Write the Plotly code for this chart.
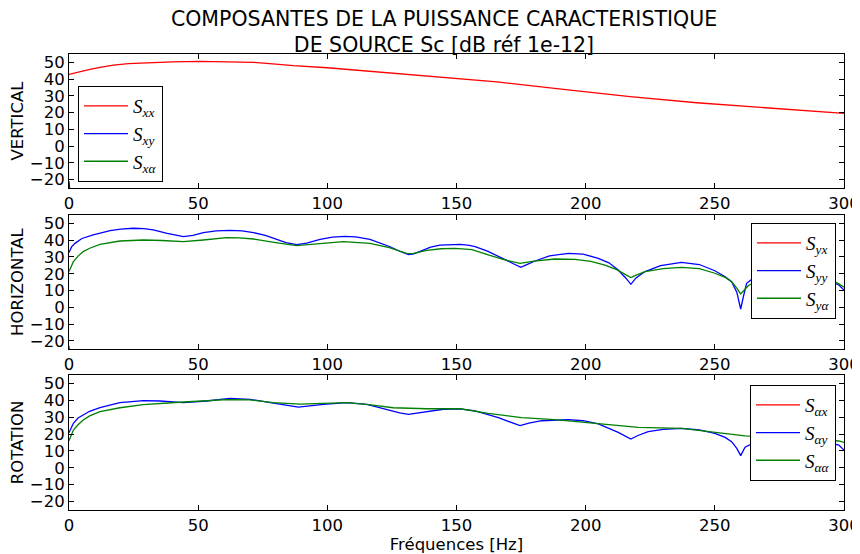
import plotly.graph_objects as go

# ---------------- data ----------------
# Panel 1 : VERTICAL
f_xx = [0, 4, 8.1, 12, 17.2, 23, 30, 40, 50.7, 60, 71.4, 80, 86.8, 100, 119, 139.8, 150,
        165.6, 191.4, 217.2, 243, 268.8, 300]
S_xx = [42.8, 44.5, 45.8, 47.0, 48.4, 49.3, 49.8, 50.3, 50.6, 50.5, 50.0, 49.0, 48.0, 46.8,
        44.4, 41.8, 40.2, 38.4, 33.9, 29.5, 25.9, 22.9, 19.5]
f_xy = [0, 1, 3, 10, 50, 100, 150, 200, 250, 300]
S_xy = [-21, -38, -46, -50, -52, -55, -58, -60, -62, -64]
f_xa = [0, 1, 3, 10, 50, 100, 150, 200, 250, 300]
S_xa = [-40, -50, -56, -60, -62, -65, -67, -70, -72, -74]

# Panel 2 : HORIZONTAL
f_yx = [0, 1, 3, 10, 50, 100, 150, 200, 250, 300]
S_yx = [-23, -36, -44, -50, -53, -56, -58, -61, -63, -65]
f_yy = [0, 1, 2.3, 5, 9.4, 15.9, 20, 24.9, 29, 32.6, 38, 44.3, 48, 52, 57, 62.3, 67, 71.4,
        76, 79.1, 84, 88.1, 92, 97.2, 102, 106.8, 111, 116.5, 120, 124.3, 128, 131.4, 133.5,
        135.9, 140, 143.6, 148, 151.4, 155, 157.2, 162, 166.2, 170, 174.9, 177, 180.4, 186,
        193.3, 199, 204.9, 209, 212.6, 215.5, 217.5, 219.5, 223, 229, 237.1, 244, 250, 254,
        256.5, 258.5, 260, 261, 262.3, 265, 270, 278, 286, 292, 296, 298, 300]
S_yy = [32.6, 36.0, 38.1, 41.0, 43.1, 45.7, 46.6, 47.1, 46.9, 46.1, 44.0, 42.1, 42.8, 44.5,
        45.5, 45.9, 45.6, 44.5, 42.8, 41.1, 38.6, 37.3, 38.3, 40.5, 41.8, 42.3, 42.0, 40.5,
        38.6, 36.1, 33.4, 31.4, 31.8, 33.2, 35.8, 37.1, 37.5, 37.5, 36.9, 36.1, 33.5, 30.2,
        27.5, 23.8, 25.3, 27.6, 30.6, 32.2, 31.7, 29.2, 26.5, 22.2, 17.5, 13.7, 17.5, 21.3,
        24.8, 26.8, 25.5, 21.8, 18.2, 15.3, 9.0, -1.0, 6.0, 14.3, 17.5, 20.0, 21.0, 19.5,
        17.5, 15.0, 13.3, 10.3]
f_ya = [0, 1.7, 3.5, 5.5, 8, 12, 19.7, 28.8, 36, 44.3, 52, 61, 66, 71.4, 80, 88.1, 96, 106.2,
        116.5, 124, 130.7, 133, 138.5, 144, 149.4, 156, 162.3, 168, 174.6, 180, 188.1, 195.9,
        202, 207.5, 212, 217.5, 220, 223, 230, 237.1, 244, 250, 254, 256.5, 258.5, 260,
        261.5, 263, 268, 276, 285, 292, 296, 298, 300]
S_ya = [21.3, 27.2, 30.5, 33.2, 35.2, 37.5, 39.5, 40.1, 39.8, 39.1, 40.1, 41.5, 41.4, 40.7,
        38.5, 36.7, 37.8, 39.1, 38.1, 35.5, 32.2, 32.0, 33.9, 34.9, 35.1, 34.4, 31.2, 28.5,
        26.2, 27.5, 28.8, 28.6, 27.4, 25.2, 22.5, 17.7, 19.5, 21.3, 23.0, 23.8, 23.0, 20.3,
        17.8, 15.3, 11.5, 8.0, 10.5, 13.0, 17.0, 19.0, 18.5, 17.0, 15.5, 14.0, 12.0]

# Panel 3 : ROTATION
f_ax = [0, 1, 3, 10, 50, 100, 150, 200, 250, 300]
S_ax = [-35, -45, -50, -54, -56, -58, -60, -62, -64, -66]
f_ay = [0, 1.7, 3.5, 5.5, 8, 12, 19.7, 28.8, 35.2, 44.3, 53.3, 62.3, 70.1, 79.1, 88.8, 98.5,
        107.5, 115.3, 123, 128, 131.4, 135, 138.5, 144.9, 151.4, 157.2, 166.2, 171, 174.6, 178,
        183, 193.3, 199, 204.9, 212.6, 217.5, 220, 224.2, 230, 237.1, 244, 250, 254, 256.5,
        258.5, 260, 261.7, 266, 274, 283, 292, 298, 300]
S_ay = [20.8, 26.4, 29.5, 31.3, 33.5, 35.6, 38.6, 39.8, 39.6, 38.6, 39.6, 41.2, 40.6, 38.3,
        36.0, 37.6, 38.6, 37.6, 34.7, 32.5, 31.7, 32.5, 33.4, 34.7, 34.9, 33.8, 29.7, 27.0,
        25.0, 26.5, 27.9, 28.6, 27.9, 26.0, 21.0, 17.1, 19.0, 21.5, 22.8, 23.4, 22.5, 20.4,
        18.0, 15.5, 11.5, 7.2, 12.2, 15.5, 17.5, 17.5, 15.8, 13.5, 10.5]
f_aa = [0, 1.7, 3.5, 5.5, 8, 12, 19.7, 28.8, 44.3, 61, 70, 79.1, 89.4, 98, 107.5, 116, 125.5,
        138.5, 151.4, 162.3, 175.2, 188.1, 201, 220.4, 237.1, 252.6, 261.7, 280, 298, 300]
S_aa = [16.1, 22.4, 25.5, 28.3, 30.8, 33.3, 35.6, 37.4, 39.0, 40.4, 40.2, 38.6, 37.8, 38.2,
        38.6, 37.5, 35.6, 35.0, 35.0, 32.3, 29.7, 28.6, 26.7, 24.0, 23.4, 20.8, 18.9, 17.5,
        15.9, 15.0]

panel_titles = ["VERTICAL", "HORIZONTAL", "ROTATION"]
legend_names = [
    ["<i>S</i><sub><i>xx</i></sub>", "<i>S</i><sub><i>xy</i></sub>", "<i>S</i><sub><i>xα</i></sub>"],
    ["<i>S</i><sub><i>yx</i></sub>", "<i>S</i><sub><i>yy</i></sub>", "<i>S</i><sub><i>yα</i></sub>"],
    ["<i>S</i><sub><i>αx</i></sub>", "<i>S</i><sub><i>αy</i></sub>", "<i>S</i><sub><i>αα</i></sub>"],
]
panels = [
    [(f_xx, S_xx), (f_xy, S_xy), (f_xa, S_xa)],
    [(f_yx, S_yx), (f_yy, S_yy), (f_ya, S_ya)],
    [(f_ax, S_ax), (f_ay, S_ay), (f_aa, S_aa)],
]
x_ticks = [0, 50, 100, 150, 200, 250, 300]
y_ticks = [-20, -10, 0, 10, 20, 30, 40, 50]

# ---------------- figure ----------------
# The page body has an 8 px margin; the figure is sized so it ends exactly at 860x554.
OFF = 8
W, H = 860 - OFF, 554 - OFF
PL, PR, PT, PB = 69, 844, 54, 510          # plot area in page pixels
ML, MR = PL - OFF, 860 - PR
MT, MB = PT - OFF, 554 - PB
colors = ["#ff0000", "#0000ff", "#008000"]
SANS = "DejaVu Sans"
SERIF = "Liberation Serif"

fig = go.Figure()
legend_keys = ["legend", "legend2", "legend3"]
for p in range(3):
    xa = "x" if p == 0 else f"x{p+1}"
    ya = "y" if p == 0 else f"y{p+1}"
    for k, (fx, sy) in enumerate(panels[p]):
        fig.add_trace(go.Scatter(
            x=fx, y=sy, mode="lines", name=legend_names[p][k],
            line=dict(color=colors[k], width=1.3),
            xaxis=xa, yaxis=ya, legend=legend_keys[p],
            legendgroup=f"g{p}{k}", showlegend=True,
        ))

pw = PR - PL
ph = PB - PT
def pdom(top_px, bot_px):
    return [(PB - bot_px) / ph, (PB - top_px) / ph]

domains = [pdom(54, 188), pdom(215, 349.3), pdom(375, 510)]

tickfont = dict(family=SANS, size=16.5, color="black")
layout = dict(
    width=W, height=H,
    margin=dict(l=ML, r=MR, t=MT, b=MB, pad=0, autoexpand=False),
    paper_bgcolor="white", plot_bgcolor="white",
    showlegend=True,
    title=dict(
        text="COMPOSANTES DE LA PUISSANCE CARACTERISTIQUE<br>DE SOURCE Sc [dB réf 1e-12]",
        font=dict(family=SANS, size=20.5, color="black"),
        x=(444 - OFF) / W, xref="container", xanchor="center",
        y=1 - 17.5 / H, yref="container", yanchor="top",
        automargin=False,
    ),
)
for p in range(3):
    xk = "xaxis" if p == 0 else f"xaxis{p+1}"
    yk = "yaxis" if p == 0 else f"yaxis{p+1}"
    ya = "y" if p == 0 else f"y{p+1}"
    xa = "x" if p == 0 else f"x{p+1}"
    layout[xk] = dict(
        domain=[0, 1], anchor=ya, range=[0, 300], automargin=False,
        tickmode="array", tickvals=x_ticks,
        showline=True, linecolor="black", linewidth=1, mirror="allticks",
        ticks="inside", ticklen=5, tickcolor="black", tickwidth=1,
        showgrid=False, zeroline=False, tickfont=tickfont,
    )
    layout[yk] = dict(
        domain=domains[p], anchor=xa, range=[-25, 55], automargin=False,
        tickmode="array", tickvals=y_ticks,
        showline=True, linecolor="black", linewidth=1, mirror="allticks",
        ticks="inside", ticklen=5, tickcolor="black", tickwidth=1,
        showgrid=False, zeroline=False, tickfont=tickfont,
        title=dict(text=panel_titles[p], font=dict(family=SANS, size=16.5, color="black"),
                   standoff=5),
    )
layout["xaxis3"]["title"] = dict(text="Fréquences [Hz]",
                                 font=dict(family=SANS, size=16.5, color="black"),
                                 standoff=2)

leg_common = dict(
    bgcolor="white", bordercolor="black", borderwidth=1,
    font=dict(family=SERIF, size=19, color="black"),
    itemwidth=44, tracegroupgap=9, traceorder="normal",
)
layout["legend"] = dict(leg_common, x=(78 - PL) / pw, xanchor="left",
                        y=(PB - 86) / ph, yanchor="top")
layout["legend2"] = dict(leg_common, x=(836 - PL) / pw, xanchor="right",
                         y=(PB - 223) / ph, yanchor="top")
layout["legend3"] = dict(leg_common, x=(836 - PL) / pw, xanchor="right",
                         y=(PB - 385) / ph, yanchor="top")

fig.update_layout(**layout)
fig.write_html("out.html")
